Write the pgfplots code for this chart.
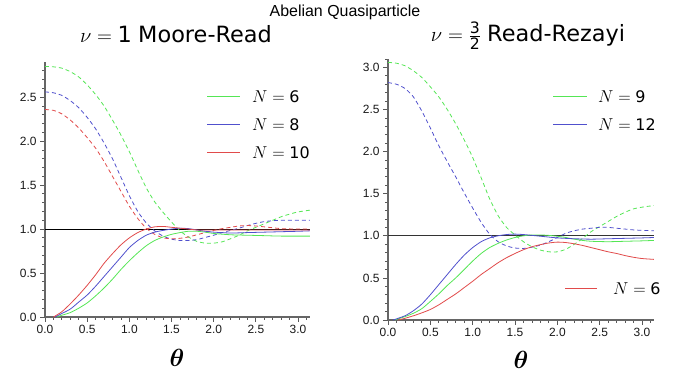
\documentclass[border=0pt]{standalone}
\usepackage{amsmath}
\usepackage{bm}
\usepackage{fontspec}
\setmainfont{Liberation Sans}
\newfontfamily\dejavu{DejaVu Sans}
\usepackage{pgfplots}
\pgfplotsset{compat=1.18}
\definecolor{cg}{RGB}{85,230,85}
\definecolor{cb}{RGB}{80,80,205}
\definecolor{cr}{RGB}{225,75,75}
\pgfplotsset{myax/.style={
  scale only axis, axis x line*=bottom, axis y line*=left,
  axis line style={-, draw=black!60, line width=1.8bp},
  xmin=0, xmax=3.14159, ymin=0,
  xtick={0,0.5,1,1.5,2,2.5,3},
  minor xtick={0.1,0.2,0.3,0.4,0.6,0.7,0.8,0.9,1.1,1.2,1.3,1.4,1.6,1.7,1.8,1.9,2.1,2.2,2.3,2.4,2.6,2.7,2.8,2.9,3.1},
  tick align=outside, major tick length=5bp, minor tick length=3bp,
  every tick/.append style={draw=black!65, line width=0.8bp},
  tick label style={font=\fontsize{12}{13}\selectfont, text=black!90},
  xticklabel style={/pgf/number format/fixed, /pgf/number format/fixed zerofill, /pgf/number format/precision=1},
  yticklabel style={/pgf/number format/fixed, /pgf/number format/fixed zerofill, /pgf/number format/precision=1},
  /pgf/number format/assume math mode=true,
  clip=false,
  every axis plot/.append style={line width=0.8bp, smooth, tension=0.4},
  dsh/.style={dash pattern=on 4bp off 3bp},
}}
\begin{document}
\begin{tikzpicture}
\useasboundingbox (0,0) rectangle (678bp,375bp);
% ---------- left panel ----------
\begin{axis}[myax, at={(45bp,58bp)}, anchor=south west, width=265bp, height=255bp,
  ymax=2.9, ytick={0,0.5,1,1.5,2,2.5},
  minor ytick={0.1,0.2,0.3,0.4,0.6,0.7,0.8,0.9,1.1,1.2,1.3,1.4,1.6,1.7,1.8,1.9,2.1,2.2,2.3,2.4,2.6,2.7,2.8}]
\addplot[black, line width=0.9bp, sharp plot] coordinates {(0,1) (3.14159,1)};
\addplot[cg, dsh] coordinates {(0,2.85)(0.1,2.845)(0.2,2.83)(0.3,2.79)(0.4,2.73)(0.5,2.64)(0.6,2.53)(0.7,2.40)(0.8,2.24)(0.9,2.07)(1.0,1.88)(1.1,1.67)(1.2,1.47)(1.3,1.31)(1.4,1.19)(1.5,1.08)(1.6,0.98)(1.7,0.91)(1.8,0.86)(1.9,0.84)(2.0,0.84)(2.1,0.855)(2.2,0.89)(2.3,0.93)(2.4,0.98)(2.5,1.02)(2.6,1.06)(2.7,1.10)(2.8,1.14)(2.9,1.17)(3.0,1.195)(3.14,1.215)};
\addplot[cb, dsh] coordinates {(0,2.56)(0.1,2.55)(0.2,2.52)(0.3,2.46)(0.4,2.38)(0.5,2.27)(0.6,2.14)(0.7,1.98)(0.8,1.80)(0.9,1.59)(1.0,1.38)(1.1,1.20)(1.2,1.07)(1.3,0.98)(1.4,0.92)(1.5,0.885)(1.6,0.87)(1.7,0.87)(1.8,0.88)(1.9,0.905)(2.0,0.93)(2.1,0.96)(2.2,0.985)(2.3,1.01)(2.4,1.04)(2.5,1.065)(2.6,1.085)(2.7,1.095)(2.8,1.10)(3.0,1.10)(3.14,1.10)};
\addplot[cr, dsh] coordinates {(0,2.36)(0.1,2.35)(0.2,2.31)(0.3,2.24)(0.4,2.15)(0.5,2.04)(0.6,1.92)(0.7,1.77)(0.8,1.60)(0.9,1.43)(1.0,1.26)(1.1,1.12)(1.2,1.01)(1.3,0.94)(1.4,0.90)(1.5,0.89)(1.6,0.895)(1.7,0.91)(1.8,0.935)(1.9,0.96)(2.0,0.985)(2.1,1.005)(2.2,1.02)(2.3,1.035)(2.4,1.04)(2.5,1.035)(2.6,1.025)(2.7,1.015)(2.8,1.005)(3.0,1.0)(3.14,1.0)};
\addplot[cg] coordinates {(0.14,0)(0.2,0.02)(0.3,0.05)(0.4,0.10)(0.5,0.16)(0.6,0.24)(0.7,0.33)(0.8,0.43)(0.9,0.54)(1.0,0.64)(1.1,0.73)(1.2,0.81)(1.3,0.87)(1.4,0.91)(1.5,0.94)(1.6,0.96)(1.7,0.975)(1.8,0.975)(1.9,0.965)(2.0,0.95)(2.2,0.935)(2.4,0.93)(2.6,0.925)(2.8,0.92)(3.14,0.92)};
\addplot[cb] coordinates {(0.12,0)(0.2,0.04)(0.3,0.09)(0.4,0.17)(0.5,0.25)(0.6,0.35)(0.7,0.46)(0.8,0.57)(0.9,0.68)(1.0,0.79)(1.1,0.87)(1.2,0.93)(1.3,0.965)(1.4,0.985)(1.5,1.0)(1.6,1.01)(1.7,1.005)(1.8,0.99)(1.9,0.975)(2.0,0.965)(2.2,0.955)(2.4,0.96)(2.6,0.965)(2.8,0.97)(3.0,0.975)(3.14,0.98)};
\addplot[cr] coordinates {(0.1,0)(0.2,0.06)(0.3,0.15)(0.4,0.25)(0.5,0.36)(0.6,0.48)(0.7,0.61)(0.8,0.72)(0.9,0.82)(1.0,0.90)(1.1,0.96)(1.2,1.0)(1.3,1.025)(1.4,1.03)(1.5,1.02)(1.6,1.01)(1.7,1.0)(1.8,0.99)(2.0,0.99)(2.5,0.99)(3.14,0.99)};
\end{axis}
% ---------- right panel ----------
\begin{axis}[myax, at={(388bp,55bp)}, anchor=south west, width=266bp, height=261bp,
  ymax=3.1, ytick={0,0.5,1,1.5,2,2.5,3},
  minor ytick={0.1,0.2,0.3,0.4,0.6,0.7,0.8,0.9,1.1,1.2,1.3,1.4,1.6,1.7,1.8,1.9,2.1,2.2,2.3,2.4,2.6,2.7,2.8,2.9,3.1}]
\addplot[black!80, line width=1.2bp, sharp plot] coordinates {(0,1) (3.14159,1)};
\addplot[cg, dsh] coordinates {(0,3.06)(0.1,3.05)(0.2,3.02)(0.3,2.96)(0.4,2.88)(0.5,2.77)(0.6,2.65)(0.7,2.50)(0.8,2.33)(0.9,2.14)(1.0,1.93)(1.1,1.69)(1.2,1.44)(1.3,1.24)(1.4,1.10)(1.5,1.01)(1.6,0.93)(1.7,0.87)(1.8,0.83)(1.9,0.81)(2.0,0.81)(2.1,0.84)(2.2,0.90)(2.3,0.97)(2.4,1.05)(2.5,1.11)(2.6,1.17)(2.7,1.23)(2.8,1.28)(2.9,1.32)(3.0,1.34)(3.14,1.36)};
\addplot[cb, dsh] coordinates {(0,2.82)(0.1,2.80)(0.2,2.75)(0.3,2.65)(0.4,2.48)(0.5,2.28)(0.6,2.07)(0.7,1.88)(0.8,1.70)(0.9,1.51)(1.0,1.33)(1.1,1.16)(1.2,1.02)(1.3,0.93)(1.4,0.88)(1.5,0.855)(1.6,0.85)(1.7,0.865)(1.8,0.89)(1.9,0.93)(2.0,0.98)(2.1,1.03)(2.2,1.06)(2.3,1.08)(2.4,1.09)(2.5,1.10)(2.6,1.10)(2.7,1.09)(2.8,1.08)(2.9,1.07)(3.0,1.065)(3.14,1.06)};
\addplot[cg] coordinates {(0.08,0)(0.2,0.04)(0.3,0.08)(0.4,0.135)(0.5,0.22)(0.6,0.31)(0.7,0.41)(0.8,0.50)(0.9,0.60)(1.0,0.70)(1.1,0.79)(1.2,0.86)(1.3,0.91)(1.4,0.95)(1.5,0.98)(1.6,1.0)(1.7,1.01)(1.8,1.01)(1.9,1.005)(2.0,0.995)(2.1,0.98)(2.2,0.96)(2.3,0.945)(2.4,0.935)(2.6,0.93)(2.8,0.935)(3.0,0.94)(3.14,0.945)};
\addplot[cb] coordinates {(0.06,0)(0.2,0.05)(0.3,0.11)(0.4,0.19)(0.5,0.30)(0.6,0.42)(0.7,0.54)(0.8,0.66)(0.9,0.77)(1.0,0.86)(1.1,0.93)(1.2,0.975)(1.3,1.0)(1.4,1.015)(1.5,1.02)(1.6,1.015)(1.7,1.005)(1.8,0.995)(1.9,0.985)(2.0,0.975)(2.2,0.965)(2.4,0.96)(2.6,0.965)(2.8,0.97)(3.0,0.975)(3.14,0.98)};
\addplot[cr] coordinates {(0.12,0)(0.2,0.02)(0.3,0.05)(0.4,0.085)(0.5,0.125)(0.6,0.18)(0.7,0.245)(0.8,0.31)(0.9,0.385)(1.0,0.46)(1.1,0.54)(1.2,0.61)(1.3,0.68)(1.4,0.74)(1.5,0.79)(1.6,0.835)(1.7,0.87)(1.8,0.895)(1.9,0.915)(2.0,0.925)(2.1,0.92)(2.2,0.905)(2.3,0.885)(2.4,0.86)(2.5,0.835)(2.6,0.81)(2.7,0.79)(2.8,0.765)(2.9,0.745)(3.0,0.73)(3.14,0.72)};
\end{axis}
% ---------- titles ----------
\node[anchor=base, inner sep=0] at (345bp,358bp) {\fontsize{16}{18}\selectfont Abelian Quasiparticle};
\node[anchor=base, inner sep=0] at (176bp,332bp) {\fontsize{22.5}{26}\selectfont $\nu=\text{\dejavu 1}$ {\dejavu Moore-Read}};
\node[anchor=base, inner sep=0] at (528bp,333bp) {\fontsize{22.5}{26}\selectfont $\nu=\frac{\text{\dejavu 3}}{\text{\dejavu 2}}$ {\dejavu Read-Rezayi}};
\node[inner sep=0] at (177bp,17bp) {\fontsize{27}{30}\selectfont $\bm{\theta}$};
\node[inner sep=0] at (521bp,15bp) {\fontsize{27}{30}\selectfont $\bm{\theta}$};
% ---------- legends ----------
\begin{scope}[every node/.style={anchor=west, inner sep=0, font=\fontsize{16}{18}\selectfont}]
\draw[cg, line width=1bp] (207bp,278bp) -- (240bp,278bp); \node at (252bp,278bp) {$N=\text{\dejavu 6}$};
\draw[cb, line width=1bp] (207bp,250bp) -- (240bp,250bp); \node at (252bp,250bp) {$N=\text{\dejavu 8}$};
\draw[cr, line width=1bp] (207bp,222bp) -- (240bp,222bp); \node at (252bp,222bp) {$N=\text{\dejavu 10}$};
\draw[cg, line width=1bp] (553bp,278bp) -- (587bp,278bp); \node at (598bp,278bp) {$N=\text{\dejavu 9}$};
\draw[cb, line width=1bp] (553bp,250bp) -- (587bp,250bp); \node at (598bp,250bp) {$N=\text{\dejavu 12}$};
\draw[cr, line width=1bp] (565bp,86bp) -- (597bp,86bp); \node at (613bp,86bp) {$N=\text{\dejavu 6}$};
\end{scope}
\end{tikzpicture}
\end{document}
